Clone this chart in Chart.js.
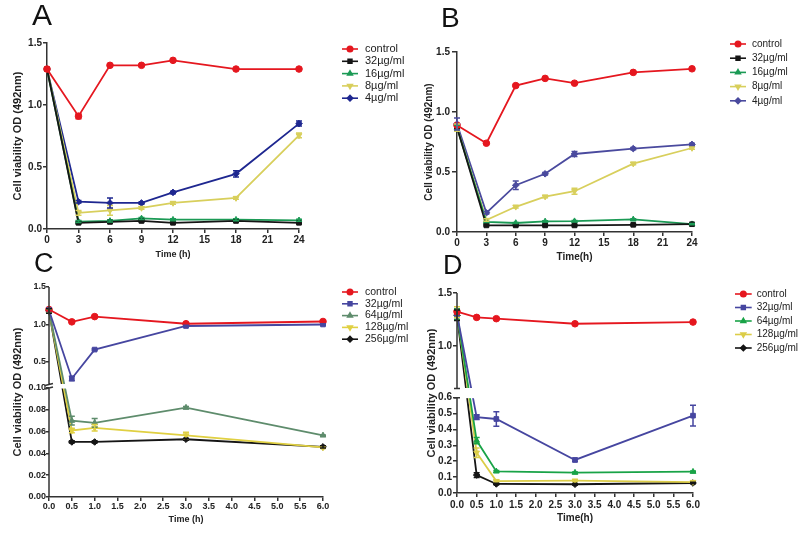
<!DOCTYPE html>
<html>
<head>
<meta charset="utf-8">
<script src="https://cdn.jsdelivr.net/npm/chart.js"></script>
<style>
  body { margin: 0; background: #fff; }
  #wrap { position: relative; width: 800px; height: 535px; overflow: hidden; background: #fff; }
  canvas { position: absolute; }
  .tag { position: absolute; font-family: "Liberation Sans", Arial, sans-serif; line-height: 1; color: #111; }
</style>
</head>
<body>
<div id="wrap">
  <canvas id="chartA" width="430" height="267" style="left:0;top:0"></canvas>
  <canvas id="chartB" width="400" height="267" style="left:400px;top:0"></canvas>
  <canvas id="chartC" width="430" height="268" style="left:0;top:267px"></canvas>
  <canvas id="chartD" width="400" height="268" style="left:400px;top:267px"></canvas>
  <div class="tag" style="left:32px;top:0px;font-size:30px">A</div>
  <div class="tag" style="left:441px;top:4px;font-size:28px">B</div>
  <div class="tag" style="left:34px;top:250px;font-size:27px">C</div>
  <div class="tag" style="left:443px;top:252px;font-size:27px">D</div>
</div>
<script>
// ---- dados ----
const horasAB = [0, 3, 6, 9, 12, 18, 24];
const horasCD = [0, 0.5, 1, 3, 6];

const nomesAB = ['control', '32µg/ml', '16µg/ml', '8µg/ml', '4µg/ml'];
const nomesCD = ['control', '32µg/ml', '64µg/ml', '128µg/ml', '256µg/ml'];

// Painel A
const aControl = [1.29, 0.91, 1.32, 1.32, 1.36, 1.29, 1.29];
const a32 = [1.29, 0.05, 0.057, 0.065, 0.05, 0.065, 0.05];
const a16 = [1.29, 0.06, 0.065, 0.085, 0.075, 0.075, 0.07];
const a8 = [1.29, 0.13, 0.15, 0.17, 0.21, 0.25, 0.755];
const a4 = [1.29, 0.22, 0.21, 0.21, 0.295, 0.445, 0.85];
const aControlErr = [0, 0.02, 0, 0, 0, 0, 0];
const a32Err = [0, 0.008, 0.008, 0.008, 0.008, 0.008, 0.008];
const a16Err = [0, 0.008, 0.008, 0.008, 0.008, 0.008, 0.008];
const a8Err = [0, 0.02, 0.04, 0.01, 0.01, 0.01, 0.02];
const a4Err = [0, 0.01, 0.04, 0.01, 0.01, 0.025, 0.02];

// Painel B
const bControl = [0.89, 0.74, 1.22, 1.28, 1.24, 1.33, 1.36];
const b32 = [0.87, 0.055, 0.055, 0.055, 0.055, 0.06, 0.065];
const b16 = [0.87, 0.085, 0.075, 0.088, 0.09, 0.105, 0.065];
const b8 = [0.87, 0.10, 0.21, 0.295, 0.34, 0.57, 0.70];
const b4 = [0.90, 0.16, 0.39, 0.485, 0.65, 0.695, 0.73];
const bControlErr = [0.01, 0.005, 0.005, 0.005, 0.005, 0.005, 0.005];
const b32Err = [0.02, 0.005, 0.005, 0.005, 0.005, 0.005, 0.005];
const b16Err = [0.02, 0.005, 0.005, 0.005, 0.005, 0.005, 0.005];
const b8Err = [0.03, 0.01, 0.01, 0.01, 0.025, 0.01, 0.01];
const b4Err = [0.05, 0.01, 0.035, 0.01, 0.02, 0.01, 0.01];

// Painel C
const cControl = [1.20, 1.035, 1.105, 1.01, 1.04];
const c32 = [1.19, 0.28, 0.665, 0.98, 1.0];
const c64 = [1.18, 0.070, 0.068, 0.082, 0.0565];
const c128 = [1.18, 0.061, 0.0635, 0.0565, 0.0455];
const c256 = [1.18, 0.0505, 0.0505, 0.053, 0.046];
const cControlErr = [0.02, 0.01, 0.01, 0.01, 0.01];
const c32Err = [0.03, 0.03, 0.01, 0.01, 0.01];
const c64Err = [0.03, 0.004, 0.004, 0.001, 0.0005];
const c128Err = [0.03, 0.002, 0.003, 0.003, 0.001];
const c256Err = [0.03, 0.001, 0.001, 0.001, 0.001];

// Painel D
const dControl = [1.325, 1.27, 1.258, 1.21, 1.226];
const d32 = [1.30, 0.478, 0.466, 0.208, 0.487];
const d64 = [1.30, 0.33, 0.136, 0.128, 0.134];
const d128 = [1.32, 0.254, 0.075, 0.078, 0.069];
const d256 = [1.29, 0.113, 0.057, 0.055, 0.063];
const dControlErr = [0.02, 0.01, 0.01, 0.01, 0.01];
const d32Err = [0.05, 0.015, 0.045, 0.01, 0.065];
const d64Err = [0.05, 0.02, 0.005, 0.005, 0.005];
const d128Err = [0.05, 0.03, 0.005, 0.005, 0.005];
const d256Err = [0.05, 0.015, 0.005, 0.005, 0.005];

// ticks
const xTicksAB = [0, 3, 6, 9, 12, 15, 18, 21, 24];
const yTicksAB = [0, 0.5, 1.0, 1.5];
const xTicksCD = [0, 0.5, 1, 1.5, 2, 2.5, 3, 3.5, 4, 4.5, 5, 5.5, 6];
const yTicksC = [0, 0.02, 0.04, 0.06, 0.08, 0.10, 0.5, 1.0, 1.5];
const yTicksD = [0, 0.1, 0.2, 0.3, 0.4, 0.5, 0.6, 1.0, 1.5];

// eixos quebrados: trecho de valores -> fração da altura do eixo
const quebras = {
  chartC: [{lo: 0, hi: 0.10, d0: 0, d1: 0.519}, {lo: 0.2, hi: 1.5, d0: 0.536, d1: 1}],
  chartD: [{lo: 0, hi: 0.6, d0: 0, d1: 0.4765}, {lo: 0.6, hi: 1.5, d0: 0.5225, d1: 1}]
};

Chart.defaults.font.family = '"Liberation Sans", Arial, sans-serif';
Chart.defaults.color = '#222';

function valorParaFracao(segs, v) {
  const s0 = segs[0], s1 = segs[1];
  if (v <= s0.hi) return s0.d0 + (v - s0.lo) / (s0.hi - s0.lo) * (s0.d1 - s0.d0);
  if (v >= s1.lo) return s1.d0 + (v - s1.lo) / (s1.hi - s1.lo) * (s1.d1 - s1.d0);
  return s0.d1 + (v - s0.hi) / (s1.lo - s0.hi) * (s1.d0 - s0.d1);
}
function fracaoParaValor(segs, d) {
  const s0 = segs[0], s1 = segs[1];
  if (d <= s0.d1) return s0.lo + (d - s0.d0) / (s0.d1 - s0.d0) * (s0.hi - s0.lo);
  if (d >= s1.d0) return s1.lo + (d - s1.d0) / (s1.d1 - s1.d0) * (s1.hi - s1.lo);
  return s0.hi + (d - s0.d1) / (s1.d0 - s0.d1) * (s1.lo - s0.hi);
}

// escala linear com quebra
class BrokenScale extends Chart.LinearScale {
  getPixelForValue(v) {
    if (v === null || isNaN(v)) return NaN;
    return this.getPixelForDecimal(valorParaFracao(quebras[this.chart.canvas.id], v));
  }
  getValueForPixel(p) {
    return fracaoParaValor(quebras[this.chart.canvas.id], this.getDecimalForPixel(p));
  }
}
BrokenScale.id = 'broken';
BrokenScale.defaults = Chart.LinearScale.defaults;
Chart.register(BrokenScale);

function pts(xs, ys) {
  return xs.map((x, i) => ({x: x, y: ys[i]}));
}

function serie(label, xs, ys, err, cor, estilo, rot) {
  return {
    label: label, data: pts(xs, ys), err: err,
    borderColor: cor, backgroundColor: cor,
    pointStyle: estilo, pointRotation: rot || 0,
    pointRadius: 3.3, pointBorderWidth: 1, borderWidth: 1.8,
    tension: 0, clip: false
  };
}

// barras de erro
const errPlugin = {
  id: 'errBars',
  afterDatasetsDraw(chart) {
    const ctx = chart.ctx, xs = chart.scales.x, ys = chart.scales.y;
    ctx.save();
    chart.data.datasets.forEach(ds => {
      if (!ds.err) return;
      ctx.strokeStyle = ds.borderColor;
      ctx.lineWidth = 1.5;
      ds.data.forEach((p, i) => {
        const e = ds.err[i];
        if (!e) return;
        const x = xs.getPixelForValue(p.x);
        const y1 = ys.getPixelForValue(p.y - e), y2 = ys.getPixelForValue(p.y + e);
        ctx.beginPath();
        ctx.moveTo(x, y1); ctx.lineTo(x, y2);
        ctx.moveTo(x - 3, y1); ctx.lineTo(x + 3, y1);
        ctx.moveTo(x - 3, y2); ctx.lineTo(x + 3, y2);
        ctx.stroke();
      });
    });
    ctx.restore();
  }
};

// quebra do eixo y (C e D)
const breakPlugin = {
  id: 'axisBreak',
  afterDatasetsDraw(chart) {
    const segs = quebras[chart.canvas.id];
    if (!segs) return;
    const ys = chart.scales.y, a = chart.chartArea, ctx = chart.ctx;
    const yLo = ys.getPixelForDecimal(segs[0].d1), yHi = ys.getPixelForDecimal(segs[1].d0);
    ctx.save();
    ctx.fillStyle = '#fff';
    ctx.fillRect(a.left + 1, yHi - 0.5, a.right - a.left, yLo - yHi + 1);
    ctx.restore();
  },
  afterDraw(chart) {
    const segs = quebras[chart.canvas.id];
    if (!segs) return;
    const ys = chart.scales.y, a = chart.chartArea, ctx = chart.ctx;
    const yLo = ys.getPixelForDecimal(segs[0].d1), yHi = ys.getPixelForDecimal(segs[1].d0);
    const x = a.left;
    ctx.save();
    ctx.strokeStyle = '#333';
    ctx.lineWidth = 1.5;
    ctx.beginPath();
    ctx.moveTo(x, a.bottom); ctx.lineTo(x, yLo);
    ctx.moveTo(x, yHi); ctx.lineTo(x, a.top);
    if (chart.canvas.id === 'chartC') {
      ctx.moveTo(x - 4, yLo + 1); ctx.lineTo(x + 4, yLo - 1);
      ctx.moveTo(x - 4, yHi + 1); ctx.lineTo(x + 4, yHi - 1);
    } else {
      ctx.moveTo(x - 3, yLo); ctx.lineTo(x + 3, yLo);
      ctx.moveTo(x - 3, yHi); ctx.lineTo(x + 3, yHi);
    }
    ctx.stroke();
    ctx.restore();
  }
};

// legenda ao lado, com linha + marcador
const legendPlugin = {
  id: 'sideLegend',
  afterDraw(chart, args, o) {
    const ctx = chart.ctx;
    ctx.save();
    chart.data.datasets.forEach((ds, i) => {
      const y = o.y + i * o.dy;
      ctx.strokeStyle = ds.borderColor;
      ctx.fillStyle = ds.borderColor;
      ctx.lineWidth = 1.6;
      ctx.beginPath(); ctx.moveTo(o.x0, y); ctx.lineTo(o.x1, y); ctx.stroke();
      Chart.helpers.drawPoint(ctx, {pointStyle: ds.pointStyle, rotation: ds.pointRotation, radius: 2.7, borderWidth: 1}, (o.x0 + o.x1) / 2, y);
      ctx.fillStyle = '#222';
      ctx.font = o.size + 'px "Liberation Sans", Arial, sans-serif';
      ctx.textAlign = 'left';
      ctx.textBaseline = 'middle';
      ctx.fillText(ds.label, o.tx, y);
    });
    ctx.restore();
  }
};

function makeChart(id, datasets, c) {
  return new Chart(document.getElementById(id), {
    type: 'line',
    data: { datasets: datasets },
    options: {
      responsive: false,
      animation: false,
      devicePixelRatio: 1,
      layout: { padding: c.pad },
      plugins: {
        legend: { display: false },
        tooltip: { enabled: false },
        sideLegend: c.legend
      },
      scales: {
        x: {
          type: 'linear', min: 0, max: c.xTicks[c.xTicks.length - 1],
          afterBuildTicks: s => { s.ticks = c.xTicks.map(v => ({value: v})); },
          afterFit: s => { s.height = c.xH; },
          ticks: { font: {size: c.tickSize, weight: 'bold'}, color: '#222', padding: c.xPad,
                   autoSkip: false, maxRotation: 0, callback: c.xFmt },
          grid: { drawOnChartArea: false, tickLength: 4, color: '#333', lineWidth: 1.5 },
          border: { color: '#333', width: 1.5 },
          title: { display: true, text: c.xTitle, font: {size: c.xTitleSize, weight: 'bold'}, color: '#222',
                   padding: {top: 0, bottom: c.xTitlePad} }
        },
        y: {
          type: c.broken ? 'broken' : 'linear', min: 0, max: 1.5,
          afterBuildTicks: s => { s.ticks = c.yTicks.map(v => ({value: v})); },
          afterFit: s => { s.width = c.yW; },
          ticks: { font: {size: c.tickSize, weight: 'bold'}, color: '#222', padding: c.yPad, callback: c.yFmt },
          grid: { drawOnChartArea: false, tickLength: c.yTickLen, color: '#333', lineWidth: 1.5 },
          border: { display: !c.broken, color: '#333', width: 1.5 },
          title: { display: true, text: 'Cell viability OD (492nm)', font: {size: c.yTitleSize, weight: 'bold'}, color: '#222',
                   padding: {top: 4, bottom: 0} }
        }
      }
    },
    plugins: [errPlugin, breakPlugin, legendPlugin]
  });
}

const um = v => v.toFixed(1);

makeChart('chartA', [
  serie(nomesAB[0], horasAB, aControl, aControlErr, '#e5171f', 'circle'),
  serie(nomesAB[1], horasAB, a32, a32Err, '#151515', 'rect'),
  serie(nomesAB[2], horasAB, a16, a16Err, '#1b9a55', 'triangle'),
  serie(nomesAB[3], horasAB, a8, a8Err, '#d8cf5c', 'triangle', 180),
  serie(nomesAB[4], horasAB, a4, a4Err, '#1e2790', 'rectRot')
], {
  pad: {left: 7, right: 131, top: 43, bottom: 0}, yW: 40, xH: 38,
  xTicks: xTicksAB, yTicks: yTicksAB, xFmt: v => String(v), yFmt: um,
  tickSize: 10, xPad: 1, yPad: 1, yTickLen: 4,
  xTitle: 'Time (h)', xTitleSize: 9, xTitlePad: 6.6, yTitleSize: 11,
  legend: {x0: 342, x1: 358, tx: 365, y: 49, dy: 12.3, size: 11}
});

makeChart('chartB', [
  serie(nomesAB[0], horasAB, bControl, bControlErr, '#e5171f', 'circle'),
  serie(nomesAB[1], horasAB, b32, b32Err, '#151515', 'rect'),
  serie(nomesAB[2], horasAB, b16, b16Err, '#1b9a55', 'triangle'),
  serie(nomesAB[3], horasAB, b8, b8Err, '#d8cf5c', 'triangle', 180),
  serie(nomesAB[4], horasAB, b4, b4Err, '#4a4a9e', 'rectRot')
], {
  pad: {left: 19, right: 108, top: 52, bottom: 0}, yW: 38, xH: 35,
  xTicks: xTicksAB, yTicks: yTicksAB, xFmt: v => String(v), yFmt: um,
  tickSize: 10, xPad: 1, yPad: 2, yTickLen: 5,
  xTitle: 'Time(h)', xTitleSize: 10, xTitlePad: 4, yTitleSize: 10,
  legend: {x0: 330, x1: 346, tx: 352, y: 44, dy: 14.2, size: 10}
});

makeChart('chartC', [
  serie(nomesCD[0], horasCD, cControl, cControlErr, '#e5171f', 'circle'),
  serie(nomesCD[1], horasCD, c32, c32Err, '#4646a0', 'rect'),
  serie(nomesCD[2], horasCD, c64, c64Err, '#5e8c6c', 'triangle'),
  serie(nomesCD[3], horasCD, c128, c128Err, '#e0d042', 'triangle', 180),
  serie(nomesCD[4], horasCD, c256, c256Err, '#151515', 'rectRot')
], {
  broken: true,
  pad: {left: 7, right: 107, top: 20, bottom: 0}, yW: 42, xH: 38,
  xTicks: xTicksCD, yTicks: yTicksC, xFmt: um, yFmt: v => (v <= 0.1 ? v.toFixed(2) : v.toFixed(1)),
  tickSize: 9, xPad: 0, yPad: 0, yTickLen: 3,
  xTitle: 'Time (h)', xTitleSize: 9, xTitlePad: 9.6, yTitleSize: 11,
  legend: {x0: 342, x1: 358, tx: 365, y: 25, dy: 11.8, size: 10.5}
});

makeChart('chartD', [
  serie(nomesCD[0], horasCD, dControl, dControlErr, '#e5171f', 'circle'),
  serie(nomesCD[1], horasCD, d32, d32Err, '#4646a0', 'rect'),
  serie(nomesCD[2], horasCD, d64, d64Err, '#19a347', 'triangle'),
  serie(nomesCD[3], horasCD, d128, d128Err, '#dccd48', 'triangle', 180),
  serie(nomesCD[4], horasCD, d256, d256Err, '#151515', 'rectRot')
], {
  broken: true,
  pad: {left: 21, right: 107, top: 26, bottom: 0}, yW: 36, xH: 42,
  xTicks: xTicksCD, yTicks: yTicksD, xFmt: um, yFmt: um,
  tickSize: 10, xPad: 2, yPad: 1, yTickLen: 4,
  xTitle: 'Time(h)', xTitleSize: 10, xTitlePad: 10.7, yTitleSize: 11,
  legend: {x0: 335, x1: 351.7, tx: 356.7, y: 27, dy: 13.5, size: 10}
});
</script>
</body>
</html>
